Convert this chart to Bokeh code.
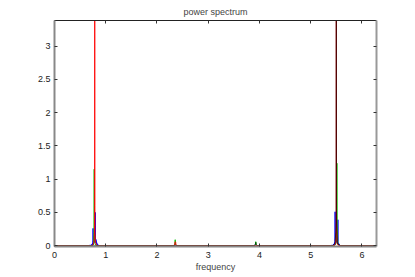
import math
from bokeh.plotting import figure
from bokeh.models import Range1d, LinearAxis, FixedTicker
from bokeh.embed import file_html
from bokeh.resources import INLINE

# ---- data ----
x_ticks = [0, 1, 2, 3, 4, 5, 6]
x_tick_labels = ["0", "1", "2", "3", "4", "5", "6"]
y_ticks = [0, 0.5, 1, 1.5, 2, 2.5, 3]
y_tick_labels = ["0", "0.5", "1", "1.5", "2", "2.5", "3"]

black_x = [0, 3.90, 3.925, 3.93, 3.935, 3.96,
           5.42, 5.47, 5.49, 5.4965, 5.4985, 5.5005, 5.52, 5.58, 6.2832]
black_y = [0, 0.0, 0.03, 0.05, 0.02, 0.0,
           0.0, 0.03, 0.2, 0.4, 3.6, 0.4, 0.03, 0.0, 0.0]

blue_x = [0, 0.66, 0.68, 0.70, 0.705, 0.71, 0.715, 0.72, 0.725, 0.73, 0.734, 0.738, 0.742,
          0.746, 0.75, 0.752, 0.755, 0.758, 0.761, 0.764, 0.767, 0.770, 0.773, 0.776, 0.779,
          0.782, 0.785, 0.788, 0.791, 0.794, 0.796, 0.799, 0.802, 0.805, 0.808, 0.811, 0.814,
          0.817, 0.820, 0.824, 0.828, 0.832, 0.836, 0.84, 0.845, 0.85, 0.855, 0.86, 0.88, 0.90,
          2.30, 2.33, 2.345, 2.36, 2.38, 2.42, 3.88, 3.92, 3.94, 3.97,
          5.38, 5.40, 5.42, 5.425, 5.43, 5.435, 5.44, 5.445, 5.45, 5.454, 5.458, 5.462,
          5.466, 5.47, 5.473, 5.475, 5.478, 5.481, 5.484, 5.487, 5.49, 5.493, 5.496, 5.499,
          5.502, 5.505, 5.508, 5.511, 5.514, 5.517, 5.52, 5.523, 5.526, 5.53, 5.533, 5.536,
          5.54, 5.544, 5.548, 5.552, 5.556, 5.56, 5.565, 5.57, 5.58, 5.60, 6.2832]
blue_y = [0, 0.0, 0.004, 0.008, 0.002, 0.01, 0.003, 0.014, 0.004, 0.02, 0.006, 0.028, 0.008,
          0.04, 0.012, 0.26, 0.02, 0.07, 0.03, 0.1, 0.04, 0.12, 0.05, 0.15, 0.06,
          0.2, 0.07, 0.18, 0.08, 0.3, 0.5, 0.14, 0.06, 0.1, 0.05, 0.08, 0.04,
          0.06, 0.03, 0.045, 0.02, 0.03, 0.012, 0.02, 0.008, 0.012, 0.004, 0.006, 0.002, 0.0,
          0.0, 0.005, 0.02, 0.01, 0.004, 0.0, 0.0, 0.01, 0.005, 0.0,
          0.0, 0.004, 0.008, 0.002, 0.01, 0.003, 0.014, 0.004, 0.02, 0.006, 0.03, 0.008,
          0.045, 0.012, 0.06, 0.51, 0.08, 0.03, 0.12, 0.04, 0.15, 0.05, 0.2, 0.06,
          0.18, 0.07, 0.15, 0.06, 0.12, 0.05, 0.1, 0.04, 0.08, 0.39, 0.06, 0.03,
          0.04, 0.015, 0.03, 0.01, 0.02, 0.006, 0.01, 0.003, 0.002, 0.0, 0.0]

green_x = [0, 0.74, 0.76, 0.77, 0.775, 0.78, 0.79, 0.81, 2.33, 2.35, 2.355, 2.36, 2.38,
           3.90, 3.922, 3.927, 3.935, 3.96, 5.46, 5.49, 5.505, 5.51, 5.515, 5.53, 5.56, 6.2832]
green_y = [0, 0.0, 0.02, 0.2, 1.15, 0.25, 0.03, 0.0, 0.0, 0.01, 0.09, 0.02, 0.0,
           0.0, 0.02, 0.06, 0.01, 0.0, 0.0, 0.03, 0.3, 1.24, 0.3, 0.03, 0.0, 0.0]

red_x = [0, 0.72, 0.75, 0.765, 0.775, 0.781, 0.783, 0.785, 0.787, 0.789, 0.795, 0.805, 0.82, 0.85,
         2.32, 2.345, 2.35, 2.357, 2.365, 2.37, 2.40,
         5.43, 5.47, 5.485, 5.492, 5.496, 5.498, 5.500, 5.502, 5.506, 5.515, 5.53, 5.57, 6.2832]
red_y = [0, 0.0, 0.01, 0.04, 0.1, 0.22, 0.6, 3.6, 0.6, 0.22, 0.1, 0.04, 0.01, 0.0,
         0.0, 0.01, 0.05, 0.06, 0.05, 0.01, 0.0,
         0.0, 0.01, 0.04, 0.12, 0.25, 0.6, 3.6, 0.6, 0.25, 0.06, 0.01, 0.0, 0.0]

FONT = "Liberation Sans"

p = figure(frame_width=322, frame_height=226, output_backend="svg", toolbar_location=None,
           x_range=Range1d(0, 2 * math.pi), y_range=Range1d(-0.012, 3.385),
           min_border_left=54, min_border_right=31, min_border_top=10, min_border_bottom=4,
           x_axis_label="frequency")
p.grid.visible = False
p.outline_line_color = None
p.background_fill_color = "white"

p.title.text = "power spectrum"
p.title.align = "center"
p.title.text_font = FONT
p.title.text_font_size = "9px"
p.title.text_font_style = "normal"
p.title.standoff = 8
p.title.offset = 0

p.line(blue_x, blue_y, line_color="blue", line_width=1)
p.line(green_x, green_y, line_color="#00c000", line_width=1)
p.line(red_x, red_y, line_color="red", line_width=0.9)
p.line(black_x, black_y, line_color="black", line_width=0.7, line_alpha=0.8)

def style_axis(ax, color, width, labels):
    ax.axis_line_color = color
    ax.axis_line_width = width
    ax.major_tick_in = 3
    ax.major_tick_out = 0
    ax.minor_tick_line_color = None
    ax.major_tick_line_color = "#333333"
    ax.major_label_text_font = FONT
    ax.major_label_text_font_size = "9px"
    ax.major_label_text_color = "#222222"

xa = p.xaxis[0]
xa.ticker = FixedTicker(ticks=x_ticks)
xa.major_label_overrides = {t: s for t, s in zip(x_ticks, x_tick_labels)}
style_axis(xa, "#888888", 2, True)
xa.major_label_standoff = 5
xa.axis_label_standoff = 1
xa.axis_label_text_font = FONT
xa.axis_label_text_font_size = "9px"
xa.axis_label_text_font_style = "normal"

ya = p.yaxis[0]
ya.ticker = FixedTicker(ticks=y_ticks)
ya.major_label_overrides = {t: s for t, s in zip(y_ticks, y_tick_labels)}
style_axis(ya, "#888888", 2, True)
ya.major_label_standoff = 4

ra = LinearAxis(ticker=FixedTicker(ticks=y_ticks))
style_axis(ra, "#999999", 2, None)
ra.major_label_text_color = None
ra.major_label_overrides = {t: "" for t in y_ticks}
ra.major_label_standoff = 0
p.add_layout(ra, "right")

ta = LinearAxis(ticker=FixedTicker(ticks=x_ticks))
style_axis(ta, "#222222", 1, None)
ta.major_label_text_color = None
ta.major_label_overrides = {t: "" for t in x_ticks}
ta.major_label_standoff = 0
p.add_layout(ta, "above")

open("out.html", "w").write(file_html(p, INLINE))
